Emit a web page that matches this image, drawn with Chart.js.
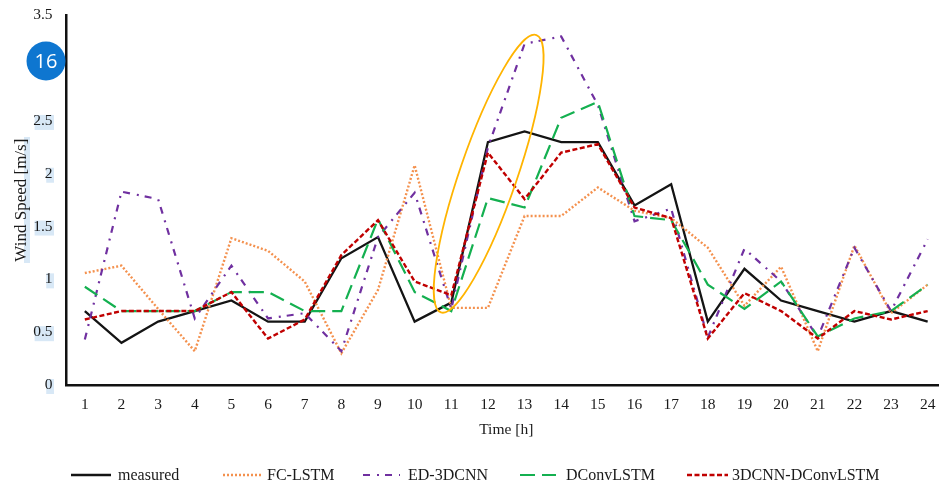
<!DOCTYPE html>
<html>
<head>
<meta charset="utf-8">
<style>
  html, body { margin: 0; padding: 0; background: #fff; overflow: hidden; }
  #graficoVento { display: block; }
</style>
<script src="https://cdn.jsdelivr.net/npm/chart.js@4"></script>
</head>
<body>
<canvas id="graficoVento" width="949" height="487"></canvas>
<script>
const horas = ["1","2","3","4","5","6","7","8","9","10","11","12","13","14","15","16","17","18","19","20","21","22","23","24"];
const measured = [0.7,0.4,0.6,0.7,0.8,0.6,0.6,1.2,1.4,0.6,0.78,2.3,2.4,2.3,2.3,1.7,1.9,0.6,1.1,0.8,0.7,0.6,0.7,0.6];
const fcLstm = [1.06,1.13,0.72,0.32,1.39,1.27,0.98,0.3,0.9,2.08,0.73,0.73,1.6,1.6,1.87,1.65,1.58,1.3,0.75,1.12,0.32,1.32,0.68,0.95];
const ed3dcnn = [0.43,1.83,1.76,0.63,1.13,0.63,0.68,0.32,1.4,1.82,0.72,2.25,3.23,3.3,2.65,1.55,1.67,0.45,1.29,0.98,0.45,1.3,0.7,1.38];
const dConvLstm = [0.93,0.7,0.7,0.7,0.88,0.88,0.7,0.7,1.57,0.88,0.7,1.77,1.68,2.53,2.68,1.6,1.56,0.95,0.72,0.98,0.46,0.63,0.7,0.95];
const cnnConvLstm = [0.62,0.7,0.7,0.7,0.88,0.44,0.62,1.23,1.56,0.98,0.85,2.2,1.76,2.2,2.28,1.68,1.58,0.44,0.87,0.7,0.44,0.7,0.62,0.7];

const FONTE = "'Liberation Serif', serif";
const COR_TEXTO = "#1a1a1a";
const COR_SELECAO = "#d8e8f6";

// fundo azul claro atras dos ticks e do titulo do eixo y
const selecaoPlugin = {
  id: "selecao",
  beforeDraw(chart) {
    const { ctx, scales } = chart;
    ctx.save();
    ctx.fillStyle = COR_SELECAO;
    ctx.font = `15.5px ${FONTE}`;
    scales.y.ticks.forEach((t, i) => {
      if (t.value > 2.5) return;
      const y = scales.y.getPixelForTick(i);
      const w = ctx.measureText(String(t.value)).width;
      ctx.fillRect(54 - w, y - 6, w, 15);
    });
    ctx.fillRect(24, 137, 6, 126);
    ctx.restore();
  },
};

// legenda em linha, com os espacos irregulares do original
const legendaPlugin = {
  id: "legenda",
  afterDraw(chart) {
    const { ctx } = chart;
    const posicoes = [
      [71, 111, 118],
      [223, 263, 267],
      [363, 400, 408],
      [520, 556, 566],
      [687, 728, 732],
    ];
    ctx.save();
    ctx.font = `16px ${FONTE}`;
    ctx.textBaseline = "middle";
    chart.data.datasets.forEach((ds, i) => {
      const [x0, x1, xTexto] = posicoes[i];
      ctx.strokeStyle = ds.borderColor;
      ctx.lineWidth = ds.borderWidth;
      ctx.setLineDash(ds.borderDash || []);
      ctx.beginPath();
      ctx.moveTo(x0, 475);
      ctx.lineTo(x1, 475);
      ctx.stroke();
      ctx.fillStyle = COR_TEXTO;
      ctx.fillText(ds.label, xTexto, 476);
    });
    ctx.restore();
  },
};

// elipse laranja em volta do pico e o selo azul
const anotacoesPlugin = {
  id: "anotacoes",
  afterDraw(chart) {
    const { ctx, scales } = chart;
    ctx.save();
    ctx.strokeStyle = "#ffb400";
    ctx.lineWidth = 1.8;
    ctx.beginPath();
    ctx.ellipse(scales.x.getPixelForValue(11.02), scales.y.getPixelForValue(2), 146.7, 28.6, -71 * Math.PI / 180, 0, Math.PI * 2);
    ctx.stroke();

    ctx.fillStyle = "#0e76d0";
    ctx.beginPath();
    ctx.arc(46, 61, 19.5, 0, Math.PI * 2);
    ctx.fill();
    ctx.fillStyle = "#ffffff";
    ctx.font = "20px 'Open Sans', sans-serif";
    ctx.textAlign = "center";
    ctx.textBaseline = "middle";
    ctx.fillText("16", 46, 62);
    ctx.restore();
  },
};

new Chart(document.getElementById("graficoVento"), {
  type: "line",
  data: {
    labels: horas,
    datasets: [
      { label: "measured", data: measured, borderColor: "#141414", borderWidth: 2.3, order: 5 },
      { label: "FC-LSTM", data: fcLstm, borderColor: "#f4914e", borderWidth: 2.4, borderDash: [2, 2], order: 4 },
      { label: "ED-3DCNN", data: ed3dcnn, borderColor: "#7030a0", borderWidth: 2.2, borderDash: [7, 7, 2, 6], order: 3 },
      { label: "DConvLSTM", data: dConvLstm, borderColor: "#14b050", borderWidth: 2.2, borderDash: [15, 7], order: 2 },
      { label: "3DCNN-DConvLSTM", data: cnnConvLstm, borderColor: "#c00000", borderWidth: 2.4, borderDash: [5, 2.5], order: 1 },
    ],
  },
  options: {
    responsive: false,
    animation: false,
    layout: { padding: { top: 1, right: 3, bottom: 48, left: 11 } },
    elements: {
      point: { radius: 0 },
      line: { tension: 0, fill: false },
    },
    plugins: {
      tooltip: { enabled: false },
      legend: { display: false },
    },
    scales: {
      x: {
        type: "category",
        offset: true,
        grid: { display: false },
        border: { color: "#111", width: 2.5 },
        ticks: { color: COR_TEXTO, font: { family: FONTE, size: 15.5 }, padding: 3, autoSkip: false, maxRotation: 0 },
        title: { display: true, text: "Time [h]", color: COR_TEXTO, font: { family: FONTE, size: 15.5 }, padding: { top: 4, bottom: 0 } },
        afterFit(scale) { scale.height = 54; },
      },
      y: {
        min: 0,
        max: 3.5,
        grid: { display: false },
        border: { color: "#111", width: 2.5 },
        ticks: {
          stepSize: 0.5,
          color: COR_TEXTO,
          font: { family: FONTE, size: 15.5 },
          padding: 6,
          callback: (v) => String(v),
        },
        title: { display: true, text: "Wind Speed [m/s]", color: COR_TEXTO, font: { family: FONTE, size: 17 }, padding: 0 },
        afterFit(scale) { scale.width = 55.5; },
      },
    },
  },
  plugins: [selecaoPlugin, legendaPlugin, anotacoesPlugin],
});
</script>
</body>
</html>
